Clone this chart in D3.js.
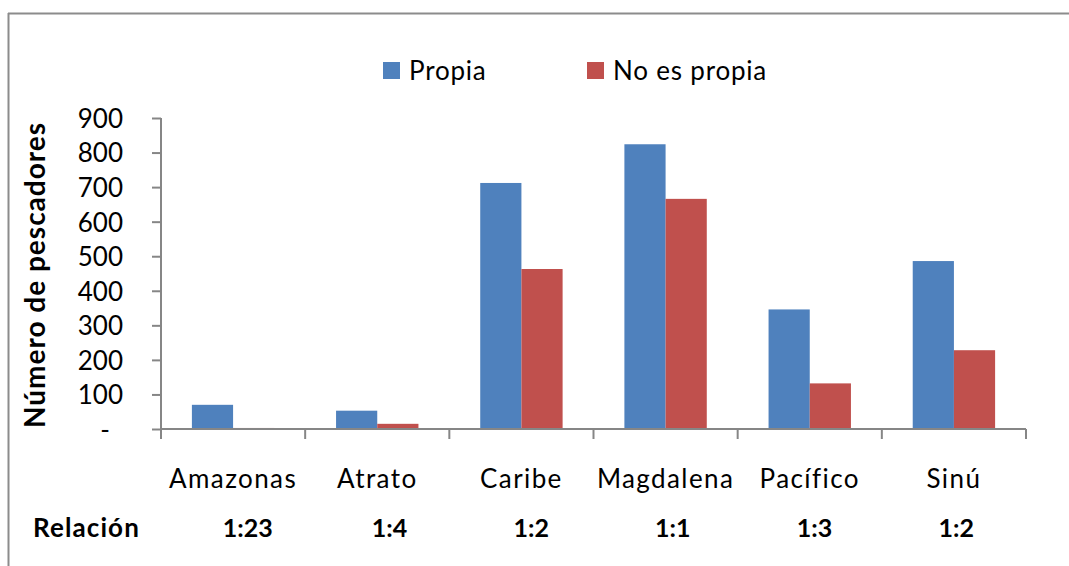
<!DOCTYPE html>
<html>
<head>
<meta charset="utf-8">
<script src="https://cdn.jsdelivr.net/npm/d3@7"></script>
<style>
  html, body { margin: 0; padding: 0; background: #fff; }
  svg { display: block; }
  text { font-family: Lato, "Open Sans", sans-serif; fill: #000; }
</style>
</head>
<body>
<svg id="chart" width="1069" height="566"></svg>
<script>
const categories = ["Amazonas", "Atrato", "Caribe", "Magdalena", "Pacífico", "Sinú"];
const propia = [70, 53, 712, 824, 346, 486];
const noEsPropia = [3, 15, 463, 666, 132, 228];
const relacion = ["1:23", "1:4", "1:2", "1:1", "1:3", "1:2"];
const seriesNames = ["Propia", "No es propia"];
const seriesColors = ["#4f81bd", "#c0504d"];
const yTickValues = [0, 100, 200, 300, 400, 500, 600, 700, 800, 900];
const yTitle = "Número de pescadores";
const rowLabel = "Relación";

const svg = d3.select("#chart");
const W = 1069, H = 566;
const axisColor = "#868686";

// outer frame (top and left edges visible)
svg.append("line").attr("x1", 8).attr("y1", 13.5).attr("x2", W).attr("y2", 13.5)
  .attr("stroke", "#8c8c8c").attr("stroke-width", 2);
svg.append("line").attr("x1", 8.5).attr("y1", 13).attr("x2", 8.5).attr("y2", H)
  .attr("stroke", "#8c8c8c").attr("stroke-width", 2);

const x0 = d3.scaleBand().domain(categories).range([161, 1026]).paddingInner(0).paddingOuter(0);
const x1 = d3.scaleBand().domain(seriesNames).range([0, x0.bandwidth()]).paddingInner(0).paddingOuter(0.75);
const y = d3.scaleLinear().domain([0, 900]).range([429, 118]);
// row of ratio labels sits in its own (spreadsheet) grid, slightly offset
const xRow = d3.scaleBand().domain(categories).range([177, 1027]);

const data = categories.map((c, i) => ({ cat: c, vals: [propia[i], noEsPropia[i]] }));

// bars
const g = svg.append("g");
g.selectAll("g.cat").data(data).join("g")
  .attr("transform", d => `translate(${x0(d.cat)},0)`)
  .selectAll("rect").data(d => d.vals.map((v, k) => ({ v, k })))
  .join("rect")
  .attr("x", d => x1(seriesNames[d.k]))
  .attr("width", x1.bandwidth())
  .attr("y", d => y(d.v))
  .attr("height", d => y(0) - y(d.v))
  .attr("fill", d => seriesColors[d.k]);

// y axis
const yAxis = d3.axisLeft(y).tickValues(yTickValues).tickSize(9).tickPadding(0)
  .tickFormat(d => d === 0 ? "-" : d);
const yg = svg.append("g").attr("transform", "translate(161,0)").call(yAxis);
yg.select(".domain").attr("stroke", axisColor).attr("stroke-width", 2)
  .attr("d", `M0,${y(900)}V${y(0) + 9}`);
yg.selectAll(".tick line").attr("stroke", axisColor).attr("stroke-width", 2);
yg.selectAll(".tick text")
  .attr("x", d => d === 0 ? -51 : -38)
  .attr("dy", "0.36em")
  .style("font-size", "26px")
  .style("font-family", "Lato, 'Open Sans', sans-serif")
  .attr("fill", "#000");

// x axis
const xAxis = d3.axisBottom(x0).tickSize(0).tickFormat("");
const xg = svg.append("g").attr("transform", `translate(0,${y(0)})`).call(xAxis);
xg.select(".domain").attr("stroke", axisColor).attr("stroke-width", 2)
  .attr("d", `M161,0H1026`);
xg.selectAll(".tick").remove();
const boundaries = categories.map(c => x0(c)).concat([x0.range()[1]]);
xg.selectAll("line.bt").data(boundaries).join("line")
  .attr("class", "bt")
  .attr("x1", d => d).attr("x2", d => d)
  .attr("y1", 0).attr("y2", 10)
  .attr("stroke", axisColor).attr("stroke-width", 2);

// category labels
svg.selectAll("text.cat").data(categories).join("text")
  .attr("class", "cat")
  .attr("x", d => x0(d) + x0.bandwidth() / 2)
  .attr("y", 488)
  .attr("text-anchor", "middle")
  .style("font-size", "26px")
  .style("letter-spacing", "1.4px")
  .text(d => d);

// relation row
svg.append("text").attr("x", 33).attr("y", 537)
  .style("font-size", "26px").style("font-weight", "bold")
  .style("letter-spacing", "1.1px").text(rowLabel);
svg.selectAll("text.rel").data(relacion).join("text")
  .attr("class", "rel")
  .attr("x", (d, i) => xRow(categories[i]) + xRow.bandwidth() / 2)
  .attr("y", 537)
  .attr("text-anchor", "middle")
  .style("font-size", "25px").style("font-weight", "bold")
  .text(d => d);

// y title
svg.append("text")
  .attr("transform", "translate(45,275) rotate(-90)")
  .attr("text-anchor", "middle")
  .style("font-size", "28px").style("font-weight", "bold")
  .style("letter-spacing", "1px")
  .text(yTitle);

// legend
const legendX = [383, 587];
const lg = svg.selectAll("g.leg").data(seriesNames).join("g")
  .attr("class", "leg")
  .attr("transform", (d, i) => `translate(${legendX[i]},62)`);
lg.append("rect").attr("width", 17).attr("height", 17)
  .attr("fill", (d, i) => seriesColors[i]);
lg.append("text").attr("x", 26).attr("y", 18)
  .style("font-size", "26px").style("letter-spacing", "0.8px").text(d => d);
</script>
</body>
</html>
